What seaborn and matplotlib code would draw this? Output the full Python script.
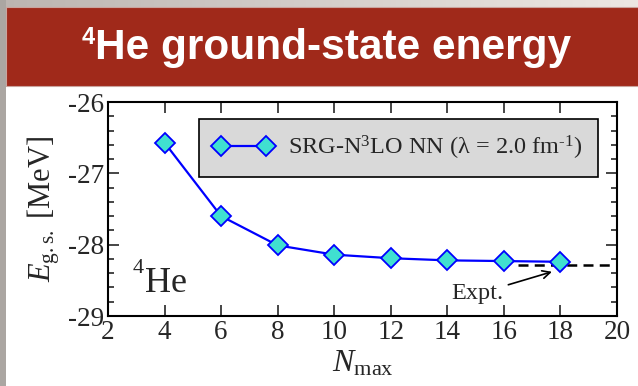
import numpy as np
import pandas as pd
import seaborn as sns
import matplotlib.pyplot as plt
from matplotlib.patches import Rectangle
from matplotlib.ticker import MultipleLocator

# data
n_max = [4, 6, 8, 10, 12, 14, 16, 18]
e_gs = [-26.57, -27.60, -28.01, -28.14, -28.19, -28.22, -28.23, -28.24]
expt_value = -28.29
expt_span = [16.5, 20.0]

series_label = "SRG-N$^{3}$LO NN (λ = 2.0 fm$^{\u20101}$)"

sns.set_theme(style="white")
plt.rcParams['font.family'] = ['Liberation Serif', 'DejaVu Serif']
plt.rcParams['mathtext.fontset'] = 'custom'
plt.rcParams['mathtext.rm'] = 'Liberation Serif'
plt.rcParams['mathtext.it'] = 'Liberation Serif:italic'
plt.rcParams['mathtext.bf'] = 'Liberation Serif:bold'
plt.rcParams['axes.unicode_minus'] = False

df = pd.DataFrame({'Nmax': n_max, 'E': e_gs})

fig = plt.figure(figsize=(6.38, 3.86), dpi=100, facecolor='white')

# slide frame: grey gradient strip on top, grey strip on left
bg = fig.add_axes([0, 0, 1, 1], zorder=-10)
grad = np.linspace(0, 1, 256).reshape(1, -1)
bg.imshow(grad, extent=[0, 1, 1 - 7/386, 1], aspect='auto',
          cmap=sns.blend_palette(['#bcb5b1', '#ede7e3'], as_cmap=True))
bg.add_patch(Rectangle((0, 0), 6/638, 1, color='#aba6a2', lw=0))
bg.add_patch(Rectangle((6/638, 1 - 86/386), 1, 79/386, facecolor='#a0291a',
                       edgecolor='#c9a49e', lw=0.8))
bg.set_xlim(0, 1)
bg.set_ylim(0, 1)
bg.axis('off')

sans = ['Liberation Sans', 'DejaVu Sans']
bg.text(82/638, 1 - 38/386, "4", color='white', fontsize=17,
        fontweight='bold', family=sans, va='center', ha='left')
bg.text(95/638, 1 - 48/386, "He ground-state energy", color='white',
        fontsize=30.5, fontweight='bold', family=sans, va='center', ha='left')

ax = fig.add_axes([108/638, 1 - 316/386, 509/638, 214/386])
sns.lineplot(data=df, x='Nmax', y='E', ax=ax, color='blue', lw=1.6,
             marker='D', markersize=10, markerfacecolor='#40e0d0',
             markeredgecolor='blue', markeredgewidth=1.3, label=series_label)

ax.plot(expt_span, [expt_value, expt_value], color='black', ls=(0, (4, 2.5)),
        lw=1.8, zorder=1)
ax.annotate('Expt.', xy=(17.7, -28.38), xytext=(14.15, -28.69),
            fontsize=17.5, va='center', ha='left',
            arrowprops=dict(arrowstyle='->', color='black', lw=1.2,
                            shrinkA=1, shrinkB=0, mutation_scale=14))
ax.text(3.3, -28.66, "He", fontsize=26, va='baseline', ha='left')
ax.text(2.88, -28.40, "4", fontsize=16, va='baseline', ha='left')

ax.set_xlim(2, 20)
ax.set_ylim(-29, -26)
ax.xaxis.set_major_locator(MultipleLocator(2))
ax.yaxis.set_major_locator(MultipleLocator(1))
ax.yaxis.set_minor_locator(MultipleLocator(0.2))
ax.tick_params(which='both', direction='in', top=True, right=True,
               left=True, bottom=True, width=1.2, labelsize=19.5, pad=3)
ax.tick_params(which='major', length=8)
ax.tick_params(which='minor', length=4)
for s in ax.spines.values():
    s.set_linewidth(1.5)
    s.set_color('black')
ax.set_facecolor('white')

ax.set_xlabel(r"$N_{\rm max}$", fontsize=23, labelpad=3)
ax.set_ylabel(r"$E_{\rm g.s.}$ [MeV]", fontsize=22, labelpad=4)

leg = ax.legend(loc='upper right', bbox_to_anchor=(0.962, 0.922),
                fontsize=17.5, frameon=True, fancybox=False, framealpha=1,
                facecolor='#d9d9d9', edgecolor='black', handlelength=2.45,
                numpoints=2, borderpad=0.62, borderaxespad=0,
                handletextpad=0.6)
leg.get_frame().set_linewidth(1.2)

fig.savefig('out.png', dpi=100, facecolor=fig.get_facecolor())
